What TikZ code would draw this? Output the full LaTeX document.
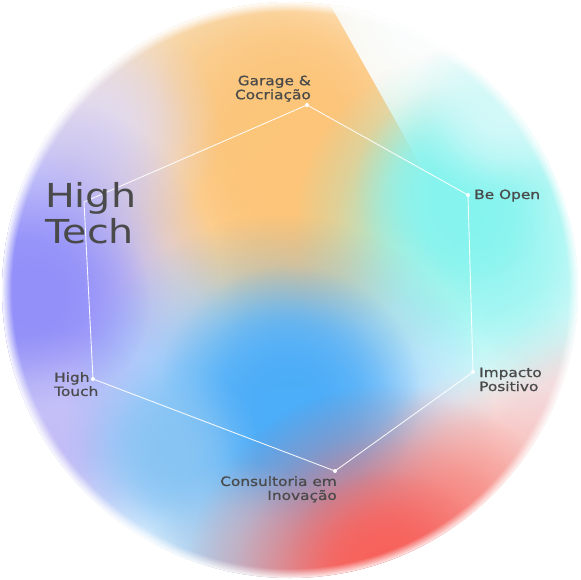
\documentclass[tikz,border=0pt]{standalone}
\usepackage{fontspec}
\setmainfont{DejaVu Sans}[FakeStretch=1.2]
\newfontfamily\lblfont{DejaVu Sans}[FakeStretch=1.2, FakeBold=0.9]
\usetikzlibrary{fadings}
\pgfdeclareradialshading{blobsh}{\pgfpointorigin}{color(0bp)=(white); color(6bp)=(white!90!black); color(13bp)=(white!62!black); color(19bp)=(white!25!black); color(25bp)=(black); color(50bp)=(black)}
\pgfdeclarefading{blob}{\pgfuseshading{blobsh}}
\pgfdeclareradialshading{ringsh}{\pgfpointorigin}{color(0bp)=(black); color(23.1bp)=(black); color(24bp)=(white); color(50bp)=(white)}
\pgfdeclarefading{ringfade}{\pgfuseshading{ringsh}}
\definecolor{orng}{HTML}{FCC57A}
\definecolor{cream}{HTML}{F6E4C8}
\definecolor{cyanc}{HTML}{86F4EF}
\definecolor{palecyan}{HTML}{D4F9F9}
\definecolor{cutc}{HTML}{FAFEFE}
\definecolor{lav}{HTML}{9390F9}
\definecolor{palelav}{HTML}{E0D9F0}
\definecolor{midlav}{HTML}{C2BDF6}
\definecolor{bluec}{HTML}{4CADF8}
\definecolor{lightblue}{HTML}{88C4F3}
\definecolor{redc}{HTML}{F8625C}
\definecolor{pinkc}{HTML}{F7B4AE}
\definecolor{palepink}{HTML}{F6D3D6}
\definecolor{botblue}{HTML}{B0CCE8}
\definecolor{txt}{HTML}{4A4A4A}
\newcommand\softblob[3]{\fill[#1, path fading=blob] #2 circle (#3);}
\begin{document}
\begin{tikzpicture}[x=1pt,y=-1pt,
  vdot/.style={circle, fill=white, inner sep=0pt, minimum size=4pt},
  lbl/.style={inner sep=0pt, text=txt, font=\lblfont\fontsize{12.8}{14}\selectfont},
  edge/.style={draw=white, line width=0.9pt, opacity=0.9}]
\useasboundingbox (0,0) rectangle (580,580);
\fill[white] (0,0) rectangle (580,580);
\begin{scope}
  \clip (290,290) circle (288);
  \fill[white] (290,290) circle (288);
  \softblob{palecyan}{(520,320)}{120}
  \softblob{palepink}{(570,420)}{110}
  % orange top
  \softblob{cream}{(180,60)}{170}
  \softblob{orng}{(280,160)}{240}
  \softblob{orng}{(300,110)}{150}
  \softblob{orng}{(300,215)}{130}
  % sharp cut at the orange's upper right
  \begin{scope}
    \clip (322,-10) -- (398,125) -- (440,200) -- (620,200) -- (620,-10) -- cycle;
    \softblob{cutc}{(410,30)}{240}
  \end{scope}
  % cyan right
  \softblob{cyanc}{(470,225)}{175}
  \softblob{cyanc}{(455,185)}{100}
  \softblob{palecyan}{(500,110)}{90}
  % lavender left
  \softblob{palelav}{(100,130)}{120}
  \softblob{lav}{(20,290)}{200}
  \softblob{lav}{(40,300)}{110}
  \softblob{midlav}{(60,450)}{120}
  % blue centre
  \softblob{bluec}{(280,430)}{215}
  \softblob{bluec}{(290,395)}{130}
  \softblob{lightblue}{(170,450)}{90}
  \softblob{botblue}{(240,560)}{100}
  % red bottom
  \softblob{pinkc}{(480,490)}{120}
  \softblob{redc}{(385,585)}{200}
  \softblob{redc}{(385,570)}{100}
  % soft outer edge
  \fill[white, path fading=ringfade] (290,290) circle (300);
\end{scope}

% vertices
\node[vdot] (g) at (307,105) {};
\node[vdot] (bo) at (468,195) {};
\node[vdot] (ip) at (473,372) {};
\node[vdot] (ci) at (335,471) {};
\node[vdot] (ht) at (93,379) {};
\coordinate (hte) at (84,202);

\draw[edge] (g.center) -- (bo.center) -- (ip.center) -- (ci.center) -- (ht.center) -- (hte) -- (g.center);

% labels
\node[lbl, anchor=north east, align=right] (lg) at (311,75.5) {Garage \&\\Cocriação};
\node[lbl, anchor=base west] (lbo) at (474,199) {Be Open};
\node[lbl, anchor=north west, align=left] (lip) at (479,367.5) {Impacto\\Positivo};
\node[lbl, anchor=north east, align=right] (lci) at (337,476) {Consultoria em\\Inovação};
\node[lbl, anchor=north west, align=left] (lht) at (54,372) {High\\Touch};
\node[inner sep=0pt, text=txt, anchor=north west, align=left, font=\fontsize{33}{36}\selectfont] (lhte) at (45,182) {High\\Tech};
\end{tikzpicture}
\end{document}
